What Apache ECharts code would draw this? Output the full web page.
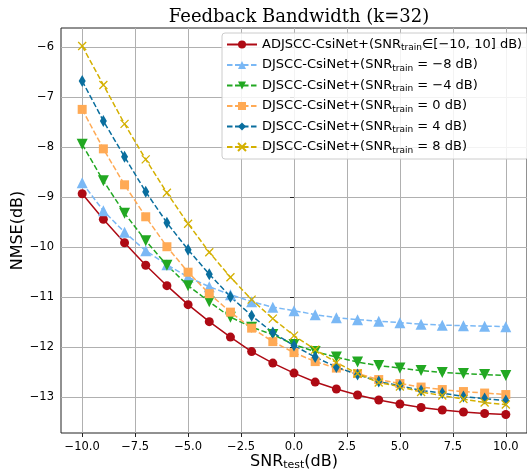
<!DOCTYPE html>
<html>
<head>
<meta charset="utf-8">
<script src="https://cdn.jsdelivr.net/npm/echarts@6/dist/echarts.min.js"></script>
<style>
html, body { margin: 0; padding: 0; background: #fff; }
#chart { width: 527px; height: 472px; }
</style>
</head>
<body>
<div id="chart"></div>
<script>
// SNR_test 轴
var snrTest = [-10, -9, -8, -7, -6, -5, -4, -3, -2, -1, 0, 1, 2, 3, 4, 5, 6, 7, 8, 9, 10];
var xTicks = [-10, -7.5, -5, -2.5, 0, 2.5, 5, 7.5, 10];
var yTicks = [-13, -12, -11, -10, -9, -8, -7, -6];

var seriesNames = [
    'ADJSCC-CsiNet+(SNR{sub|train}∈[−10, 10] dB)',
    'DJSCC-CsiNet+(SNR{sub|train} = −8 dB)',
    'DJSCC-CsiNet+(SNR{sub|train} = −4 dB)',
    'DJSCC-CsiNet+(SNR{sub|train} = 0 dB)',
    'DJSCC-CsiNet+(SNR{sub|train} = 4 dB)',
    'DJSCC-CsiNet+(SNR{sub|train} = 8 dB)'
];

var nmseAdjscc = [-8.93, -9.44, -9.91, -10.36, -10.77, -11.15, -11.49, -11.80, -12.09, -12.32, -12.52,
    -12.70, -12.84, -12.96, -13.06, -13.14, -13.21, -13.26, -13.30, -13.33, -13.35];
var nmseTrainM8 = [-8.71, -9.27, -9.70, -10.07, -10.35, -10.60, -10.79, -10.95, -11.09, -11.20, -11.27,
    -11.35, -11.41, -11.45, -11.48, -11.51, -11.54, -11.56, -11.57, -11.58, -11.59];
var nmseTrainM4 = [-7.94, -8.67, -9.32, -9.87, -10.36, -10.77, -11.09, -11.40, -11.60, -11.75, -11.95,
    -12.09, -12.20, -12.30, -12.37, -12.42, -12.47, -12.51, -12.53, -12.55, -12.57];
var nmseTrain0 = [-7.24, -8.03, -8.75, -9.39, -9.99, -10.50, -10.93, -11.30, -11.62, -11.89, -12.11,
    -12.29, -12.42, -12.53, -12.65, -12.73, -12.80, -12.85, -12.89, -12.92, -12.95];
var nmseTrain4 = [-6.67, -7.47, -8.19, -8.89, -9.51, -10.05, -10.54, -10.99, -11.37, -11.71, -11.97,
    -12.20, -12.40, -12.55, -12.69, -12.77, -12.87, -12.92, -12.99, -13.03, -13.07];
var nmseTrain8 = [-5.97, -6.75, -7.53, -8.24, -8.91, -9.53, -10.10, -10.60, -11.05, -11.43, -11.77,
    -12.05, -12.31, -12.53, -12.71, -12.79, -12.90, -12.97, -13.04, -13.11, -13.15];

function minusSign(s) {
    return String(s).replace('-', '\u2212');
}

function pairs(ys) {
    var out = [];
    for (var i = 0; i < snrTest.length; i++) {
        out.push([snrTest[i], ys[i]]);
    }
    return out;
}

function makeSeries(name, ys, color, symbol, size, dashed, extra) {
    var s = {
        name: name,
        type: 'line',
        data: pairs(ys),
        symbol: symbol,
        symbolSize: size,
        showAllSymbol: true,
        animation: false,
        lineStyle: { color: color, width: 1.5, type: dashed ? [5.5, 2.5] : 'solid' },
        itemStyle: { color: color }
    };
    for (var k in extra) s[k] = extra[k];
    return s;
}

var chart = echarts.init(document.getElementById('chart'));

var xPath = 'path://M0,0L10,10M10,0L0,10';

var option = {
    backgroundColor: '#fff',
    animation: false,
    title: {
        text: 'Feedback Bandwidth (k=32)',
        left: 294,
        top: 3,
        textAlign: 'center',
        textStyle: { fontFamily: 'DejaVu Serif', fontSize: 18, fontWeight: 'normal', color: '#000' }
    },
    grid: {
        left: 61, top: 28, width: 466, height: 405,
        outerBoundsMode: 'none',
        containLabel: false,
        show: true, borderColor: '#222', borderWidth: 1, backgroundColor: 'transparent'
    },
    legend: {
        orient: 'vertical',
        left: 222,
        top: 33,
        itemWidth: 30,
        itemHeight: 10,
        itemGap: 6,
        padding: [5, 6, 4, 4],
        borderColor: '#ccc',
        borderWidth: 1,
        borderRadius: 3,
        backgroundColor: 'rgba(255,255,255,0.85)',
        data: seriesNames,
        formatter: function (name) { return name; },
        textStyle: {
            fontFamily: 'DejaVu Sans', fontSize: 13, color: '#000',
            rich: {
                sub: { fontFamily: 'DejaVu Sans', fontSize: 9, color: '#000', padding: [7, 0, 0, 0] }
            }
        }
    },
    xAxis: {
        type: 'value',
        min: -11,
        max: 11,
        name: 'SNR{sub|test}(dB)',
        nameLocation: 'middle',
        nameGap: 19,
        nameMoveOverlap: false,
        nameTextStyle: {
            fontFamily: 'DejaVu Sans', fontSize: 16, color: '#000',
            rich: { sub: { fontFamily: 'DejaVu Sans', fontSize: 11, color: '#000', padding: [8, 0, 0, 0] } }
        },
        axisLine: { show: false },
        axisTick: { show: true, inside: false, length: 4, lineStyle: { color: '#222' }, customValues: xTicks },
        axisLabel: {
            customValues: xTicks,
            fontFamily: 'DejaVu Sans', fontSize: 11.5, color: '#000', margin: 8,
            formatter: function (v) { return minusSign(v.toFixed(1)); }
        },
        splitLine: { show: true, lineStyle: { color: '#b0b0b0', width: 1 } }
    },
    yAxis: {
        type: 'value',
        min: -13.72,
        max: -5.61,
        name: 'NMSE(dB)',
        nameLocation: 'middle',
        nameGap: 35,
        nameMoveOverlap: false,
        nameTextStyle: { fontFamily: 'DejaVu Sans', fontSize: 16, color: '#000' },
        axisLine: { show: false },
        axisTick: { show: true, inside: false, length: 4, lineStyle: { color: '#222' }, customValues: yTicks },
        axisLabel: {
            customValues: yTicks,
            fontFamily: 'DejaVu Sans', fontSize: 11.5, color: '#000', margin: 7,
            formatter: function (v) { return minusSign(v); }
        },
        splitLine: { show: true, lineStyle: { color: '#b0b0b0', width: 1 } }
    },
    series: [
        makeSeries(seriesNames[0], nmseAdjscc, '#ae0a14', 'circle', 9, false, {}),
        makeSeries(seriesNames[1], nmseTrainM8, '#7ab8f5', 'triangle', 11, true, {}),
        makeSeries(seriesNames[2], nmseTrainM4, '#22a822', 'triangle', 11, true, { symbolRotate: 180 }),
        makeSeries(seriesNames[3], nmseTrain0, '#ffaa55', 'rect', 9, true, {}),
        makeSeries(seriesNames[4], nmseTrain4, '#0a6e9e', 'diamond', [7, 12], true, {}),
        makeSeries(seriesNames[5], nmseTrain8, '#d4b000', xPath, 8, true,
            { itemStyle: { color: '#d4b000', borderColor: '#d4b000', borderWidth: 1.3 } })
    ]
};

chart.setOption(option);
</script>
</body>
</html>
